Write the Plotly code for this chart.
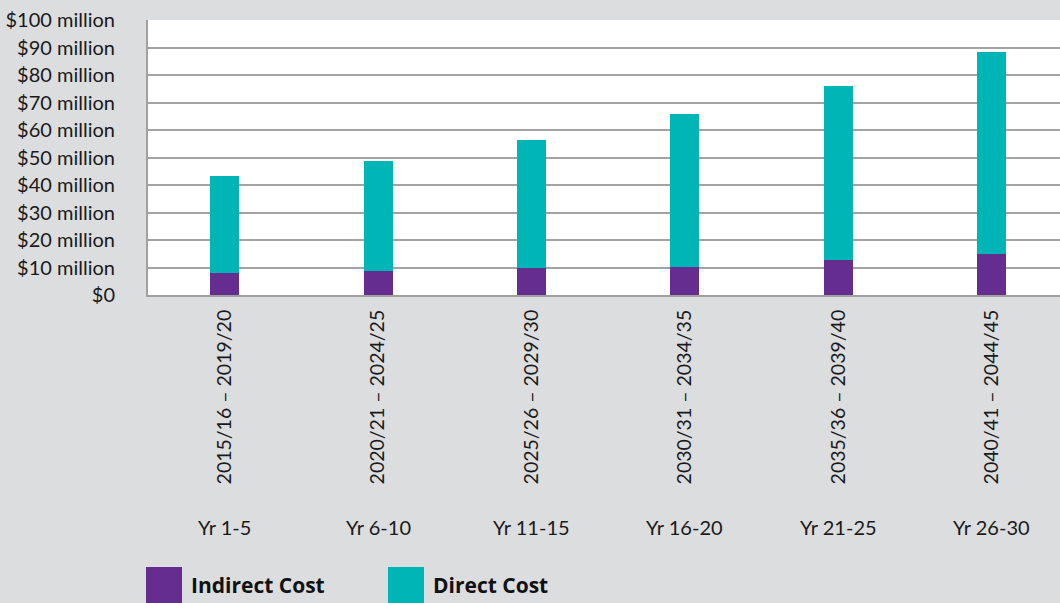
import plotly.graph_objects as go

periods = ['2015/16 – 2019/20', '2020/21 – 2024/25', '2025/26 – 2029/30',
           '2030/31 – 2034/35', '2035/36 – 2039/40', '2040/41 – 2044/45']
year_spans = ['Yr 1-5', 'Yr 6-10', 'Yr 11-15', 'Yr 16-20', 'Yr 21-25', 'Yr 26-30']
indirect_cost = [8.0, 8.8, 9.8, 10.2, 12.7, 14.9]
direct_cost = [35.4, 40.1, 46.6, 55.7, 63.4, 73.6]
y_ticks = [0, 10, 20, 30, 40, 50, 60, 70, 80, 90, 100]
y_tick_text = ['$0'] + [f'${v} million' for v in y_ticks[1:]]

purple = '#652d90'
teal = '#00b5b5'
bg = '#dcdddf'
font_family = 'Lato, sans-serif'

W, H = 1060, 603
L, R, T, B = 148, 1060, 20, 295


def px_x(px):
    return (px - L) / (R - L)


def px_y(py):
    return (B - py) / (B - T)


x_idx = list(range(len(periods)))

fig = go.Figure()
fig.add_trace(go.Bar(x=x_idx, y=indirect_cost, name='Indirect Cost',
                     marker=dict(color=purple, line=dict(width=0)), width=0.19))
fig.add_trace(go.Bar(x=x_idx, y=direct_cost, name='Direct Cost',
                     marker=dict(color=teal, line=dict(width=0)), width=0.19))

fig.update_layout(
    barmode='stack',
    width=W, height=H,
    margin=dict(l=L, r=W - R, t=T, b=H - B),
    paper_bgcolor=bg,
    plot_bgcolor='white',
    showlegend=False,
    font=dict(family=font_family, size=20, color='#1a1a1a'),
)

fig.update_xaxes(
    range=[-0.5, -0.5 + (R - L) / 153.4],
    tickmode='array', tickvals=x_idx, ticktext=periods,
    tickangle=-90, ticks='', showgrid=False,
    showline=True, linecolor='#a0a0a0', linewidth=2,
    tickfont=dict(size=19.5), zeroline=False, ticklabelstandoff=5,
)
fig.update_yaxes(
    range=[0, 100], tickmode='array', tickvals=y_ticks, ticktext=y_tick_text,
    showgrid=True, gridcolor='#a3a3a3', gridwidth=1.5,
    showline=True, linecolor='#a0a0a0', linewidth=2,
    ticks='', ticklabelstandoff=27, zeroline=False,
    tickfont=dict(size=20),
)

for i, span in enumerate(year_spans):
    fig.add_annotation(x=i, y=px_y(527), xref='x', yref='paper', text=span,
                       showarrow=False, font=dict(size=20),
                       xanchor='center', yanchor='middle')

# legend swatches and labels
for x0, label, color in [(146, 'Indirect Cost', purple), (388, 'Direct Cost', teal)]:
    fig.add_shape(type='rect', xref='paper', yref='paper',
                  x0=px_x(x0), x1=px_x(x0 + 36), y0=px_y(567), y1=px_y(606),
                  fillcolor=color, line=dict(width=0))
    fig.add_annotation(x=px_x(x0 + 43), y=px_y(585), xref='paper', yref='paper',
                       text=f'<b>{label}</b>', showarrow=False,
                       font=dict(size=21, family='Open Sans, sans-serif', color='#111'),
                       xanchor='left', yanchor='middle')

fig.write_html('out.html', config={'displayModeBar': False},
               post_script="document.body.style.margin='0';")
